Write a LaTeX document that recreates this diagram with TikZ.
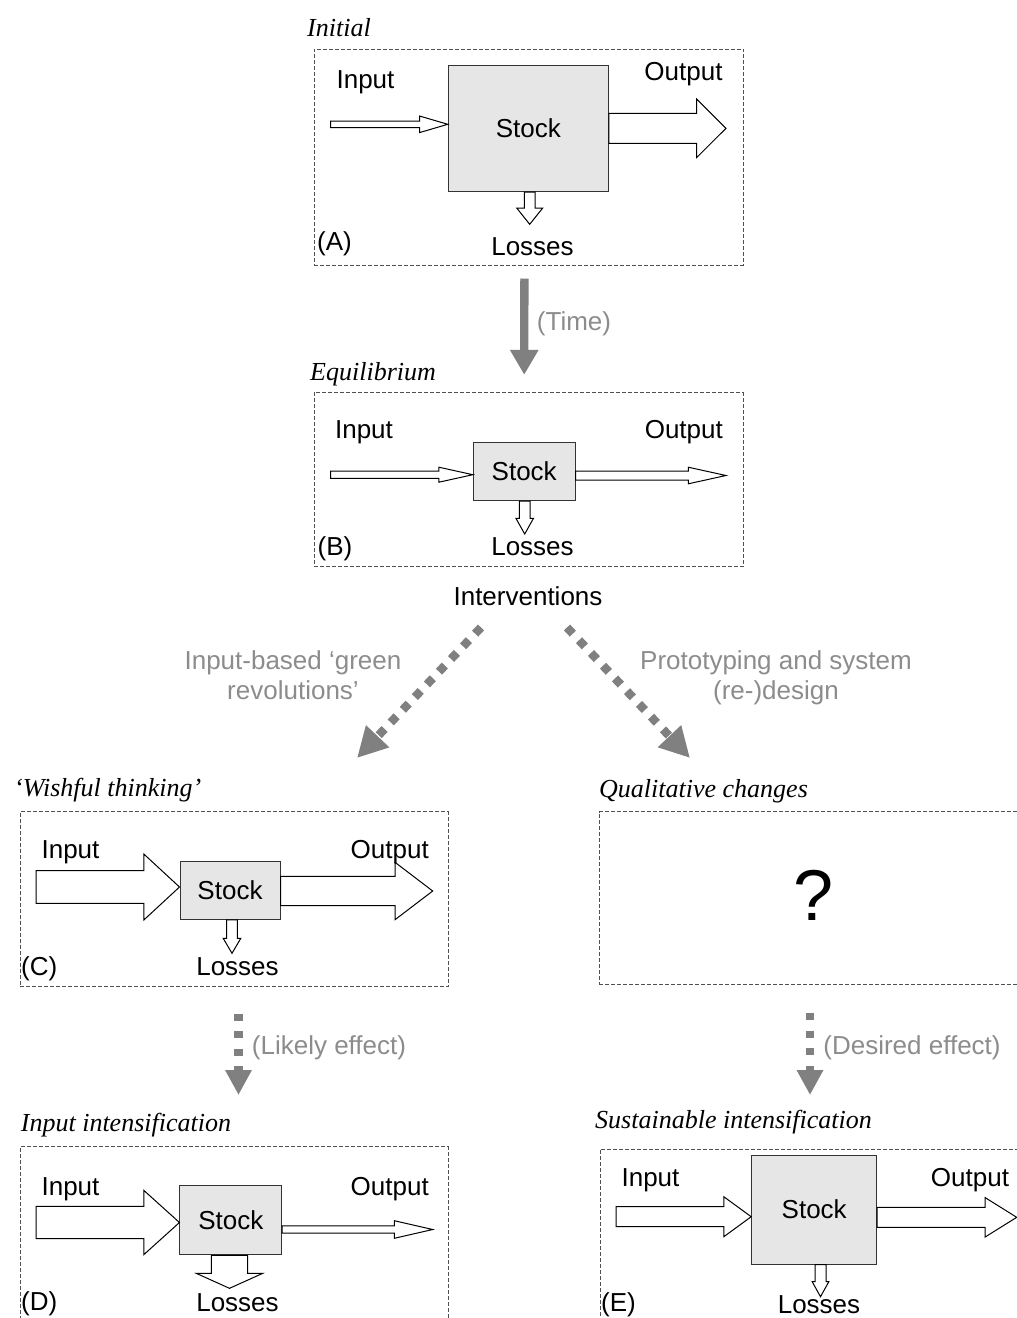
\documentclass[tikz,border=0pt]{standalone}
\usepackage{fontspec}
\setmainfont{Liberation Sans}
\newfontfamily\titlefont{Liberation Serif}
\usetikzlibrary{arrows.meta,calc}

\definecolor{stockgray}{RGB}{230,230,230}
\definecolor{arrowgray}{RGB}{128,128,128}
\definecolor{labelgray}{RGB}{140,140,140}
\definecolor{panelgray}{RGB}{80,80,80}

\newcommand{\hflow}[5]{%
  \draw[flow] let \p1=(#1), \p2=(#2) in
    (\x1,\y1+#3) -- (\x2-#5,\y1+#3) -- (\x2-#5,\y1+#4) -- (\x2,\y1)
    -- (\x2-#5,\y1-#4) -- (\x2-#5,\y1-#3) -- (\x1,\y1-#3) -- cycle;}
\newcommand{\vflow}[5]{%
  \draw[flow] let \p1=(#1), \p2=(#2) in
    (\x2+#3,\y1) -- (\x2+#3,\y2+#5) -- (\x2+#4,\y2+#5) -- (\x2,\y2)
    -- (\x2-#4,\y2+#5) -- (\x2-#3,\y2+#5) -- (\x2-#3,\y1) -- cycle;}

\begin{document}
\begin{tikzpicture}[x=1pt,y=-1pt,font=\fontsize{26}{30}\selectfont,
        flow/.style={draw=black,fill=white,line width=1pt,line join=miter}]
        \tikzstyle{stock}=[draw=black!80,fill=stockgray,line width=1pt,inner sep=0pt]
        \tikzstyle{panel}=[draw=panelgray,dash pattern=on 4pt off 2pt,line width=1pt,inner sep=0pt]
        \tikzstyle{title}=[anchor=base west,inner sep=0pt,font=\fontsize{26}{30}\selectfont\titlefont\itshape]
        \tikzstyle{lbl}=[anchor=base,inner sep=0pt]
        \tikzstyle{tag}=[anchor=base west,inner sep=0pt]
        \tikzstyle{note}=[anchor=base,inner sep=0pt,text=labelgray,align=center]
        \tikzstyle{timearrow}=[draw=arrowgray,line width=8.3pt,-{Triangle[width=27pt,length=25pt]}]
        \tikzstyle{choice}=[draw=arrowgray,line width=8.5pt,dash pattern=on 8.5pt off 9pt,-{Triangle[width=30pt,length=30pt]}]
        \tikzstyle{effect}=[draw=arrowgray,line width=8.3pt,dash pattern=on 7pt off 10.5pt,-{Triangle[width=25pt,length=25pt]}]

        \useasboundingbox (0,0) rectangle (1017,1318);
        \clip (0,0) rectangle (1017,1318);

        \node[panel,minimum width=429.3pt,minimum height=216pt]   (panelA) at (528.7,157)    {};
        \node[panel,minimum width=429pt,minimum height=174.4pt]   (panelB) at (528.5,479.5)  {};
        \node[panel,minimum width=428pt,minimum height=175pt]     (panelC) at (234,899.2)    {};
        \node[panel,minimum width=428pt,minimum height=173.3pt]   (panelQ) at (813.3,898.3)  {};
        \node[panel,minimum width=428pt,minimum height=175pt]     (panelD) at (234,1234.2)   {};
        \node[panel,minimum width=428pt,minimum height=175pt]     (panelE) at (814,1236.8)   {};

        \node[title] (titleA) at (307,36.7)    {Initial};
        \node[title] (titleB) at (310,380)     {Equilibrium};
        \node[title] (titleC) at (14,796)      {‘Wishful thinking’};
        \node[title] (titleQ) at (599,797)     {Qualitative changes};
        \node[title] (titleD) at (20.7,1131.7) {Input intensification};
        \node[title] (titleE) at (595,1128)    {Sustainable intensification};

        \node[stock,minimum width=160pt,minimum height=126pt]   (stockA) at (528.3,128.7)  {Stock};
        \node[stock,minimum width=101.7pt,minimum height=58.4pt] (stockB) at (524.2,471.5)  {Stock};
        \node[stock,minimum width=100pt,minimum height=57.6pt]   (stockC) at (230,890.5)    {Stock};
        \node[stock,minimum width=101.7pt,minimum height=69.3pt] (stockD) at (230.8,1220.3) {Stock};
        \node[stock,minimum width=125pt,minimum height=109pt]    (stockE) at (814.2,1209.5) {Stock};

        \coordinate (inA) at (330.7,124.3);
        \coordinate (outA) at (726,128.3);
        \coordinate (lossA) at (529.7,224.3);
        \coordinate (inB) at (330.7,474.7);
        \coordinate (outB) at (726,475.5);
        \coordinate (lossB) at (524.7,534);
        \coordinate (inC) at (36,887);
        \coordinate (outC) at (432.7,891);
        \coordinate (lossC) at (232,953.3);
        \coordinate (inD) at (36,1222.5);
        \coordinate (outD) at (432.7,1229.5);
        \coordinate (lossD) at (229.5,1288.3);
        \coordinate (inE) at (616,1216.7);
        \coordinate (outE) at (1016.7,1217.3);
        \coordinate (lossE) at (820.5,1296.7);

        \hflow{inA}{stockA.west}{3.3}{8.3}{28.3}
        \hflow{stockA.east |- outA}{outA}{15}{29.2}{29.3}
        \vflow{stockA.south}{lossA}{5.3}{13}{16.3}
        \hflow{inB}{stockB.west}{3.65}{7.5}{34}
        \hflow{stockB.east |- outB}{outB}{4.5}{8.3}{37.7}
        \vflow{stockB.south}{lossB}{5.3}{8.8}{15.7}
        \hflow{inC}{stockC.west}{16.3}{33}{35.7}
        \hflow{stockC.east |- outC}{outC}{14.7}{28.7}{37.7}
        \vflow{stockC.south}{lossC}{5.3}{8.8}{15}
        \hflow{inD}{stockD.west}{16.2}{32.2}{35.7}
        \hflow{stockD.east |- outD}{outD}{3.7}{8.8}{38.4}
        \vflow{stockD.south}{lossD}{18.2}{33.3}{15}
        \hflow{inE}{stockE.west}{10}{20}{27.4}
        \hflow{stockE.east |- outE}{outE}{10}{19.8}{31.7}
        \vflow{stockE.south}{lossE}{5.5}{8.3}{15}

        \node[lbl] (inlblA)   at (365.5,88.3)  {Input};
        \node[lbl] (outlblA)  at (683.5,80)    {Output};
        \node[lbl] (losslblA) at (532.5,255)   {Losses};
        \node[tag] (tagA)     at (317,250)     {(A)};
        \node[lbl] (inlblB)   at (364,438.3)   {Input};
        \node[lbl] (outlblB)  at (683.8,438.3) {Output};
        \node[lbl] (losslblB) at (532.5,555.7) {Losses};
        \node[tag] (tagB)     at (317.5,555)   {(B)};
        \node[lbl] (inlblC)   at (70.5,858.3)  {Input};
        \node[lbl] (outlblC)  at (389.7,858.3) {Output};
        \node[lbl] (losslblC) at (237.5,975)   {Losses};
        \node[tag] (tagC)     at (21,975)      {(C)};
        \node[lbl] (inlblD)   at (70.5,1195)   {Input};
        \node[lbl] (outlblD)  at (389.7,1195)  {Output};
        \node[lbl] (losslblD) at (237.5,1311.7) {Losses};
        \node[tag] (tagD)     at (21,1310)     {(D)};
        \node[lbl] (inlblE)   at (650.5,1186.7) {Input};
        \node[lbl] (outlblE)  at (970,1186.7)  {Output};
        \node[lbl] (losslblE) at (819,1313)    {Losses};
        \node[tag] (tagE)     at (601,1311.7)  {(E)};
        \node[lbl,font=\fontsize{72}{80}\selectfont] (unknown) at (813.3,920) {?};

        \node[lbl] (interv) at (528,605) {Interventions};
        \coordinate (toC) at (357,758);
        \coordinate (toQ) at (690,758);
        \coordinate (toD) at (238.5,1095);
        \coordinate (toE) at (810,1095);

        \draw[timearrow] ([shift={(-4.3,13)}]panelA.south) -- ([shift={(-4.3,-17)}]panelB.north);
        \draw[choice] ([shift={(-47,22)}]interv.south) -- (toC);
        \draw[choice] ([shift={(39,22)}]interv.south) -- (toQ);
        \draw[effect] ([shift={(4.5,26.3)}]panelC.south) -- (toD);
        \draw[effect] ([shift={(-3.3,28)}]panelQ.south) -- (toE);

        \node[note] (timelbl)    at (574,330)  {(Time)};
        \node[note] (greenlbl)   at (293,699)  {Input-based ‘green\\revolutions’};
        \node[note] (designlbl)  at (776,699)  {Prototyping and system\\(re-)design};
        \node[note] (likelylbl)  at (329,1054) {(Likely effect)};
        \node[note] (desiredlbl) at (912,1054) {(Desired effect)};
\end{tikzpicture}
\end{document}
